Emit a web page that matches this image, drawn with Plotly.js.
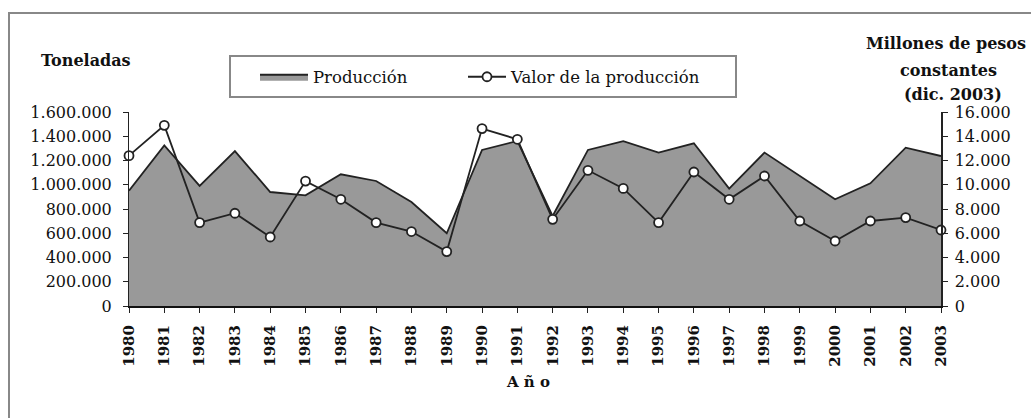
<!DOCTYPE html>
<html>
<head>
<meta charset="utf-8">
<script src="https://cdn.plot.ly/plotly-3.0.1.min.js"></script>
<style>html,body{margin:0;padding:0;background:#fff;}#chart{width:1031px;height:418px;}</style>
</head>
<body>
<div id="chart"></div>
<script>
const years = [1980,1981,1982,1983,1984,1985,1986,1987,1988,1989,1990,1991,1992,1993,1994,1995,1996,1997,1998,1999,2000,2001,2002,2003];
const yearLabels = years.map(String);
const produccion = [950000,1325000,990000,1278000,940000,913000,1086000,1031000,858000,600000,1287000,1361000,742000,1287000,1360000,1265000,1342000,968000,1265000,1072000,880000,1012000,1306000,1237000];
const valor = [12400,14900,6880,7650,5690,10300,8800,6880,6140,4490,14630,13750,7150,11190,9700,6880,11050,8800,10720,7010,5360,7010,7290,6270];
const seriesNames = ["Producción", "Valor de la producción"];

const W = 1031, H = 418, L = 129, R = 941, T = 112, B = 306;
const px = x => (x - L) / (R - L);
const py = y => (B - y) / (B - T);

const serif = "DejaVu Serif, Liberation Serif, serif";

const traces = [
  {
    x: years, y: produccion, name: seriesNames[0], type: "scatter", mode: "lines",
    fill: "tozeroy", fillcolor: "#999999",
    line: {color: "#222222", width: 1.8},
    cliponaxis: false, legend: "legend"
  },
  {
    x: years, y: valor, name: seriesNames[1], type: "scatter", mode: "lines+markers",
    yaxis: "y2",
    line: {color: "#222222", width: 1.8},
    marker: {symbol: "circle", size: 9, color: "#ffffff", line: {color: "#222222", width: 1.8}},
    cliponaxis: false, legend: "legend2"
  }
];

const legendCommon = {
  orientation: "h", yanchor: "middle", xanchor: "left",
  bgcolor: "rgba(0,0,0,0)", borderwidth: 0,
  font: {family: serif, size: 16.5, color: "#111111"},
  itemclick: false
};

const layout = {
  width: W, height: H,
  margin: {l: L, r: W - R, t: T, b: H - B, pad: 0},
  paper_bgcolor: "#ffffff", plot_bgcolor: "#ffffff",
  separators: ",.",
  font: {family: serif, size: 16, color: "#111111"},
  showlegend: true,
  legend: Object.assign({}, legendCommon, {x: px(255), y: py(77), itemwidth: 48}),
  legend2: Object.assign({}, legendCommon, {x: px(463), y: py(77), itemwidth: 38}),
  xaxis: {
    range: [years[0], years[years.length - 1]],
    tickvals: years, ticktext: yearLabels, tickangle: -90,
    ticks: "outside", ticklen: 5, tickcolor: "#222", tickwidth: 1,
    showline: true, linecolor: "#111", linewidth: 2,
    showgrid: false, zeroline: false,
    tickfont: {family: serif, size: 15, weight: "bold", color: "#111"},
    ticklabelstandoff: 6
  },
  yaxis: {
    range: [0, 1600000], dtick: 200000, tick0: 0, tickformat: ",d",
    ticks: "outside", ticklen: 5, tickcolor: "#222",
    showline: true, linecolor: "#222", linewidth: 1,
    showgrid: false, zeroline: false,
    tickfont: {family: serif, size: 16, color: "#111"},
    ticklabelstandoff: 8
  },
  yaxis2: {
    range: [0, 16000], dtick: 2000, tick0: 0, tickformat: ",d",
    overlaying: "y", side: "right",
    ticks: "outside", ticklen: 5, tickcolor: "#222",
    showline: true, linecolor: "#222", linewidth: 1.5,
    showgrid: false, zeroline: false,
    tickfont: {family: serif, size: 16, color: "#111"},
    ticklabelstandoff: 4
  },
  shapes: [
    {type: "rect", xref: "paper", yref: "paper",
     x0: px(9), x1: px(1045), y0: py(13), y1: py(430),
     line: {color: "#888888", width: 2}, fillcolor: "rgba(0,0,0,0)", layer: "below"},
    {type: "rect", xref: "paper", yref: "paper",
     x0: px(230), x1: px(736), y0: py(56), y1: py(97),
     line: {color: "#888888", width: 2}, fillcolor: "#ffffff", layer: "above"}
  ],
  annotations: [
    {text: "<b>Toneladas</b>", xref: "paper", yref: "paper", x: px(86), y: py(60),
     xanchor: "center", yanchor: "middle", showarrow: false,
     font: {family: serif, size: 16, color: "#111"}},
    {text: "<b>Millones de pesos</b>", xref: "paper", yref: "paper", x: px(946), y: py(44),
     xanchor: "center", yanchor: "middle", showarrow: false,
     font: {family: serif, size: 16, color: "#111"}},
    {text: "<b>constantes</b>", xref: "paper", yref: "paper", x: px(948), y: py(70),
     xanchor: "center", yanchor: "middle", showarrow: false,
     font: {family: serif, size: 16, color: "#111"}},
    {text: "<b>(dic. 2003)</b>", xref: "paper", yref: "paper", x: px(953), y: py(94),
     xanchor: "center", yanchor: "middle", showarrow: false,
     font: {family: serif, size: 16, color: "#111"}},
    {text: "<b>A ñ o</b>", xref: "paper", yref: "paper", x: px(528), y: py(382),
     xanchor: "center", yanchor: "middle", showarrow: false,
     font: {family: serif, size: 15, color: "#111"}}
  ]
};

Plotly.newPlot("chart", traces, layout, {displayModeBar: false, staticPlot: true});
</script>
</body>
</html>
